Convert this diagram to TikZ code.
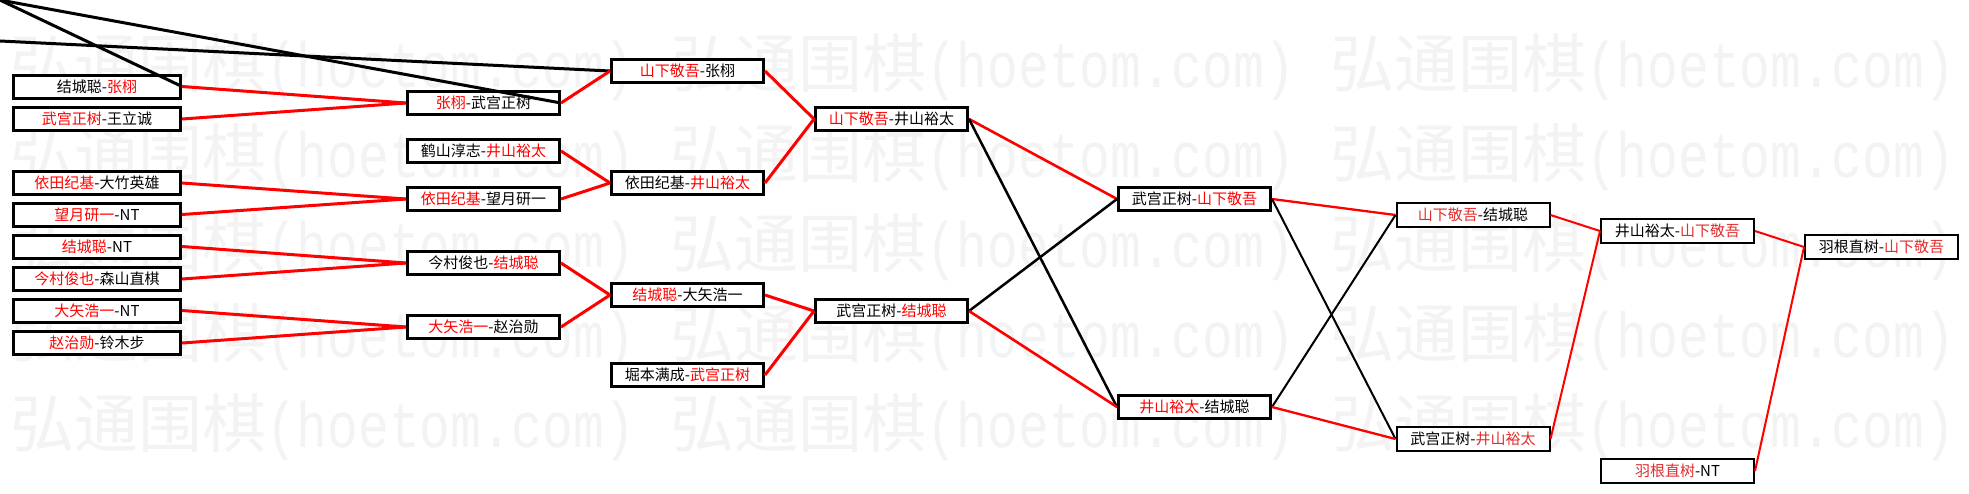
\documentclass[tikz,border=0pt]{standalone}
\usepackage{fontspec}
\newfontfamily\cjk{Noto Sans CJK SC}
\newfontfamily\wmlat[FakeStretch=0.8]{Liberation Mono}
\definecolor{wmgray}{RGB}{243,243,243}
\definecolor{lred}{RGB}{225,45,45}
\newcommand{\rw}[1]{\textcolor{red}{#1}}
\newcommand{\lw}[1]{\textcolor{lred}{#1}}
\tikzset{
  boxa/.style={draw, line width=3pt, fill=white, minimum height=23pt, inner sep=0pt,
    font=\cjk\fontsize{15}{15}\selectfont},
  wone/.style={boxa, minimum width=167pt},
  wtwo/.style={boxa, minimum width=152pt},
  boxb/.style={draw, line width=2pt, fill=white, minimum height=24pt, minimum width=153pt,
    inner sep=0pt, font=\cjk\fontsize{15}{15}\selectfont},
  reda/.style={draw=red, line width=3pt},
  blka/.style={draw=black, line width=3pt},
  redb/.style={draw=red, line width=2.6pt},
  blkb/.style={draw=black, line width=2.5pt},
  redc/.style={draw=red, line width=2.3pt},
  blkc/.style={draw=black, line width=2pt},
  redd/.style={draw=red, line width=2pt},
  wmark/.style={anchor=west, inner sep=0pt, text=wmgray,
    font=\cjk\fontsize{64}{64}\selectfont}
}
\begin{document}
\begin{tikzpicture}[x=1pt,y=-1pt]
\useasboundingbox (0,0) rectangle (1969,493);
\fill[white] (0,0) rectangle (1969,493);
% watermark
\foreach \r in {67,157,247,337,427}
  \foreach \c in {10,670,1330}
    \node[wmark] (wm-\r-\c) at (\c,\r) {弘通围棋{\wmlat(hoetom.com)}};
% column 1
\node[wone] (n1a) at (97,86.5) {结城聪-\rw{张栩}};
\node[wone] (n1b) at (97,119) {\rw{武宫正树}-王立诚};
\node[wone] (n1c) at (97,183) {\rw{依田纪基}-大竹英雄};
\node[wone] (n1d) at (97,214.5) {\rw{望月研一}-NT};
\node[wone] (n1e) at (97,246.5) {\rw{结城聪}-NT};
\node[wone] (n1f) at (97,279) {\rw{今村俊也}-森山直棋};
\node[wone] (n1g) at (97,310.5) {\rw{大矢浩一}-NT};
\node[wone] (n1h) at (97,343) {\rw{赵治勋}-铃木步};
% column 2
\node[wtwo] (n2a) at (483.5,103) {\rw{张栩}-武宫正树};
\node[wtwo] (n2b) at (483.5,151) {鹤山淳志-\rw{井山裕太}};
\node[wtwo] (n2c) at (483.5,199) {\rw{依田纪基}-望月研一};
\node[wtwo] (n2d) at (483.5,263) {今村俊也-\rw{结城聪}};
\node[wtwo] (n2e) at (483.5,327) {\rw{大矢浩一}-赵治勋};
% column 3
\node[wtwo] (n3a) at (687.5,71) {\rw{山下敬吾}-张栩};
\node[wtwo] (n3b) at (687.5,183) {依田纪基-\rw{井山裕太}};
\node[wtwo] (n3c) at (687.5,295) {\rw{结城聪}-大矢浩一};
\node[wtwo] (n3d) at (687.5,375) {堀本满成-\rw{武宫正树}};
% column 4
\node[wtwo] (n4a) at (891.5,119) {\rw{山下敬吾}-井山裕太};
\node[wtwo] (n4b) at (891.5,311) {武宫正树-\rw{结城聪}};
% column 5
\node[wtwo] (n5a) at (1194.5,199) {武宫正树-\rw{山下敬吾}};
\node[wtwo] (n5b) at (1194.5,407) {\rw{井山裕太}-结城聪};
% column 6
\node[boxb] (n6a) at (1473,215) {\lw{山下敬吾}-结城聪};
\node[boxb] (n6b) at (1473,439) {武宫正树-\lw{井山裕太}};
% column 7
\node[boxb] (n7a) at (1677.5,231) {井山裕太-\lw{山下敬吾}};
\node[boxb] (n7b) at (1677.5,471) {\lw{羽根直树}-NT};
% column 8
\node[boxb] (n8) at (1881.5,247) {羽根直树-\lw{山下敬吾}};
% free ends of the lines entering from outside
\coordinate (ea) at (-10,-4.7);
\coordinate (eb) at (-10,-1.8);
\coordinate (ec) at (-10,40.5);
% connectors
\path[blka] (ea) -- (n1a.east);
\path[blka] (eb) -- (n2a.east);
\path[blka] (ec) -- (n3a.west);
\path[reda] (n1a.east) -- (n2a.west);
\path[reda] (n1b.east) -- (n2a.west);
\path[reda] (n1c.east) -- (n2c.west);
\path[reda] (n1d.east) -- (n2c.west);
\path[reda] (n1e.east) -- (n2d.west);
\path[reda] (n1f.east) -- (n2d.west);
\path[reda] (n1g.east) -- (n2e.west);
\path[reda] (n1h.east) -- (n2e.west);
\path[reda] (n2a.east) -- (n3a.west);
\path[reda] (n2b.east) -- (n3b.west);
\path[reda] (n2c.east) -- (n3b.west);
\path[reda] (n2d.east) -- (n3c.west);
\path[reda] (n2e.east) -- (n3c.west);
\path[reda] (n3a.east) -- (n4a.west);
\path[reda] (n3b.east) -- (n4a.west);
\path[reda] (n3c.east) -- (n4b.west);
\path[reda] (n3d.east) -- (n4b.west);
\path[redb] (n4a.east) -- (n5a.west);
\path[blkb] (n4a.east) -- (n5b.west);
\path[blkb] (n4b.east) -- (n5a.west);
\path[redb] (n4b.east) -- (n5b.west);
\path[redc] (n5a.east) -- (n6a.west);
\path[blkc] (n5a.east) -- (n6b.west);
\path[blkc] (n5b.east) -- (n6a.west);
\path[redc] (n5b.east) -- (n6b.west);
\path[redd] (n6a.east) -- (n7a.west);
\path[redd] (n6b.east) -- (n7a.west);
\path[redd] (n7a.east) -- (n8.west);
\path[redd] (n7b.east) -- (n8.west);
\end{tikzpicture}
\end{document}
